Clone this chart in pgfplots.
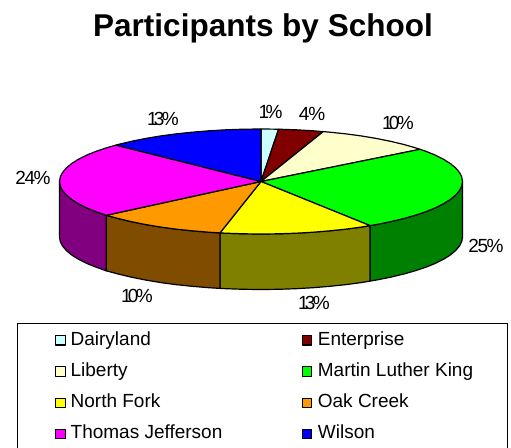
\documentclass[border=0pt]{standalone}
\usepackage{pgfplots}
\pgfplotsset{compat=1.18}
\usepackage{fontspec}
\setmainfont{Liberation Sans}
\definecolor{cDairy}{HTML}{CCFFFF}
\definecolor{cEnter}{HTML}{800000}
\definecolor{cLib}{HTML}{FFFFCC}
\definecolor{cMLK}{HTML}{00FF00}
\definecolor{cNF}{HTML}{FFFF00}
\definecolor{cOak}{HTML}{FF9900}
\definecolor{cTJ}{HTML}{FF00FF}
\definecolor{cWil}{HTML}{0000FF}
\definecolor{dMLK}{HTML}{008000}
\definecolor{dNF}{HTML}{808000}
\definecolor{dOak}{HTML}{804C00}
\definecolor{dTJ}{HTML}{800080}
\newcommand{\ca}[1]{\makebox[215.6pt][l]{\hspace{5pt}#1}}
\newcommand{\cb}[1]{\makebox[177.7pt][l]{\hspace{5.5pt}#1}}
\begin{document}
\begin{tikzpicture}
\begin{axis}[
  scale only axis, width=511pt, height=447pt,
  xmin=0, xmax=511, ymin=0, ymax=447, y dir=reverse,
  hide axis, clip=false,
  legend columns=2,
  legend cell align=left,
  legend image code/.code={\path[draw=none,fill=none] (0pt,0pt) -- (1pt,0pt);\draw[#1,line width=1.1pt] (21pt,-4.7pt) rectangle (30.6pt,4.7pt);},
  legend style={at={(axis cs:17,323)}, anchor=north west, draw=black, line width=1pt, fill=white,
    font=\fontsize{19}{21}\selectfont, inner xsep=17pt, inner ysep=8pt,
    row sep=13.8pt,
    nodes={inner sep=0pt, text depth=4pt, text height=13.5pt, line width=0.4pt},
    /tikz/every even column/.append style={column sep=0pt}},
  every axis plot/.append style={draw=black, line width=1.2pt, line join=round, mark=none, solid},
]
% side faces
\addplot[fill=dMLK, forget plot] coordinates {(462.5,181.5)(461.7,186.1)(459.4,190.6)(455.6,195.1)(450.3,199.5)(443.6,203.7)(435.5,207.8)(426.1,211.6)(415.4,215.2)(403.5,218.6)(390.5,221.7)(376.6,224.5)(370,225.6)(370,281.1)(376.6,280)(390.5,277.2)(403.5,274.1)(415.4,270.7)(426.1,267.1)(435.5,263.3)(443.6,259.2)(450.3,255)(455.6,250.6)(459.4,246.1)(461.7,241.6)(462.5,237)} --cycle;
\addplot[fill=dNF, forget plot] coordinates {(370,225.6)(361.8,227)(346.2,229.1)(329.9,230.8)(313.1,232.2)(296,233.2)(278.6,233.8)(261,234)(243.4,233.8)(226,233.2)(220,232.9)(220,288.4)(226,288.7)(243.4,289.3)(261,289.5)(278.6,289.3)(296,288.7)(313.1,287.7)(329.9,286.3)(346.2,284.6)(361.8,282.5)(370,281.1)} --cycle;
\addplot[fill=dOak, forget plot] coordinates {(220,232.9)(208.9,232.2)(192.1,230.8)(175.8,229.1)(160.2,227)(145.4,224.5)(131.5,221.7)(118.5,218.6)(106.2,215.3)(106.2,270.8)(118.5,274.1)(131.5,277.2)(145.4,280)(160.2,282.5)(175.8,284.6)(192.1,286.3)(208.9,287.7)(220,288.4)} --cycle;
\addplot[fill=dTJ, forget plot] coordinates {(106.2,215.3)(95.9,211.6)(86.5,207.8)(78.4,203.7)(71.7,199.5)(66.4,195.1)(62.6,190.6)(60.3,186.1)(59.5,181.5)(59.5,237)(60.3,241.6)(62.6,246.1)(66.4,250.6)(71.7,255)(78.4,259.2)(86.5,263.3)(95.9,267.1)(106.2,270.8)} --cycle;
% top wedges
\addplot[fill=cDairy] coordinates {(261,181.5)(261,129)(278.6,129.2)} --cycle;
\addlegendentry{\ca{Dairyland}}
\addplot[fill=cEnter] coordinates {(261,181.5)(278.6,129.2)(296,129.8)(313.1,130.8)(323.3,131.6)} --cycle;
\addlegendentry{\cb{Enterprise}}
\addplot[fill=cLib] coordinates {(261,181.5)(323.3,131.6)(329.9,132.2)(346.2,133.9)(361.8,136)(376.6,138.5)(390.5,141.3)(403.5,144.4)(415.4,147.8)(420,149.3)} --cycle;
\addlegendentry{\ca{Liberty}}
\addplot[fill=cMLK] coordinates {(261,181.5)(420,149.3)(426.1,151.4)(435.5,155.2)(443.6,159.3)(450.3,163.5)(455.6,167.9)(459.4,172.4)(461.7,176.9)(462.5,181.5)(461.7,186.1)(459.4,190.6)(455.6,195.1)(450.3,199.5)(443.6,203.7)(435.5,207.8)(426.1,211.6)(415.4,215.2)(403.5,218.6)(390.5,221.7)(376.6,224.5)(370,225.6)} --cycle;
\addlegendentry{\cb{Martin Luther King}}
\addplot[fill=cNF] coordinates {(261,181.5)(370,225.6)(361.8,227)(346.2,229.1)(329.9,230.8)(313.1,232.2)(296,233.2)(278.6,233.8)(261,234)(243.4,233.8)(226,233.2)(220,232.9)} --cycle;
\addlegendentry{\ca{North Fork}}
\addplot[fill=cOak] coordinates {(261,181.5)(220,232.9)(208.9,232.2)(192.1,230.8)(175.8,229.1)(160.2,227)(145.4,224.5)(131.5,221.7)(118.5,218.6)(106.2,215.3)} --cycle;
\addlegendentry{\cb{Oak Creek}}
\addplot[fill=cTJ] coordinates {(261,181.5)(106.2,215.3)(95.9,211.6)(86.5,207.8)(78.4,203.7)(71.7,199.5)(66.4,195.1)(62.6,190.6)(60.3,186.1)(59.5,181.5)(60.3,176.9)(62.6,172.4)(66.4,167.9)(71.7,163.5)(78.4,159.3)(86.5,155.2)(95.9,151.4)(106.6,147.8)(116,145.1)} --cycle;
\addlegendentry{\ca{Thomas Jefferson}}
\addplot[fill=cWil] coordinates {(261,181.5)(116,145.1)(118.5,144.4)(131.5,141.3)(145.4,138.5)(160.2,136)(175.8,133.9)(192.1,132.2)(208.9,130.8)(226,129.8)(243.4,129.2)(261,129)} --cycle;
\addlegendentry{\cb{Wilson}}
% texts
\node[font=\fontsize{31.5}{36}\selectfont\bfseries] at (axis cs:263,28) {Participants by School};
\begin{scope}[every node/.style={font=\fontsize{19}{21}\selectfont, inner sep=0pt}]
\node at (axis cs:270.5,112) {1\kern-3.5pt\%};
\node at (axis cs:312,114) {4\kern-1pt\%};
\node at (axis cs:398,122.7) {1\kern-4pt 0\kern-2.5pt\%};
\node at (axis cs:486,245.7) {2\kern-1.5pt 5\kern-1.5pt\%};
\node at (axis cs:314,303) {1\kern-4pt 3\kern-2.5pt\%};
\node at (axis cs:137,295.7) {1\kern-4pt 0\kern-2.5pt\%};
\node at (axis cs:33,178) {2\kern-1.5pt 4\kern-1.5pt\%};
\node at (axis cs:163,119) {1\kern-4pt 3\kern-2.5pt\%};
\end{scope}
\end{axis}
\pgfresetboundingbox
\path[use as bounding box] (0,0) rectangle (511pt,447pt);
\end{tikzpicture}
\end{document}
